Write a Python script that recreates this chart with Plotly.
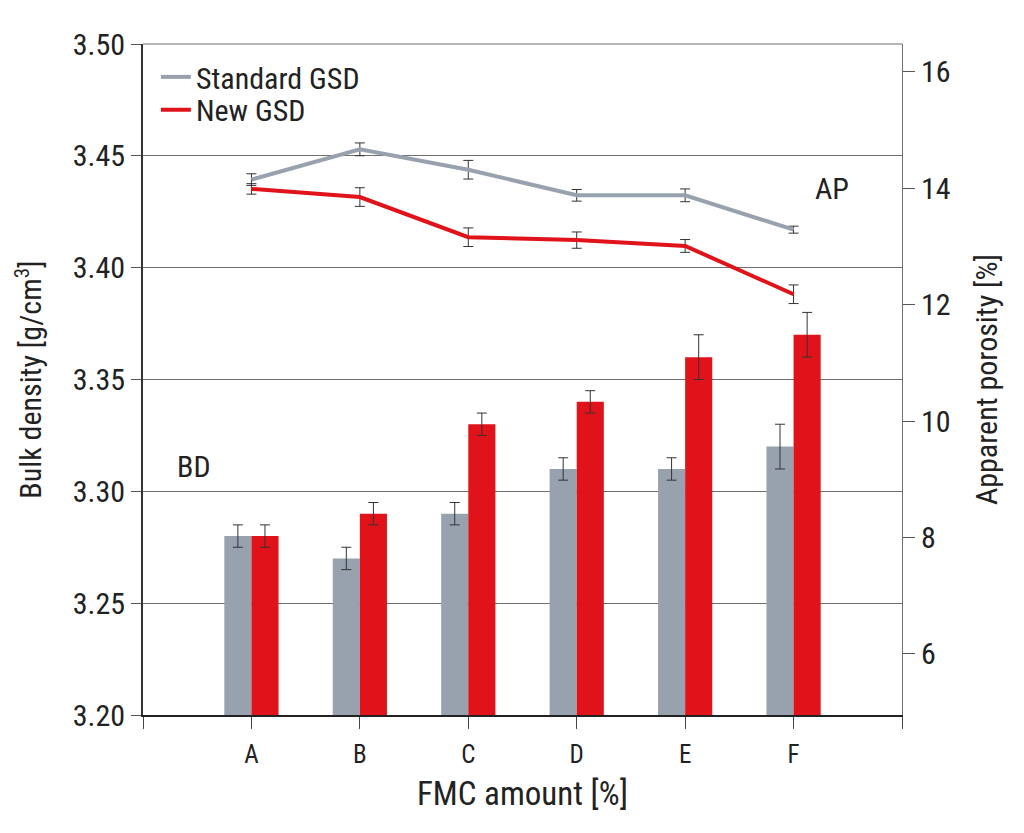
import plotly.graph_objects as go

categories = ["A", "B", "C", "D", "E", "F"]
x_pos = [0, 1, 2, 3, 4, 5]

# Bulk density (left axis) - bars
bd_standard = [3.28, 3.27, 3.29, 3.31, 3.31, 3.32]
bd_standard_err = [0.005, 0.005, 0.005, 0.005, 0.005, 0.010]
bd_new = [3.28, 3.29, 3.33, 3.34, 3.36, 3.37]
bd_new_err = [0.005, 0.005, 0.005, 0.005, 0.010, 0.010]

# Apparent porosity (right axis) - lines
ap_standard = [14.15, 14.67, 14.32, 13.88, 13.88, 13.29]
ap_standard_err = [0.10, 0.11, 0.16, 0.10, 0.11, 0.06]
ap_new = [13.99, 13.85, 13.16, 13.11, 13.01, 12.18]
ap_new_err = [0.09, 0.16, 0.16, 0.14, 0.11, 0.16]

GRAY = "#98a2ae"
RED = "#e0121a"
ERR = "#333333"
FONT = "Liberation Sans Narrow, Arial Narrow, Roboto Condensed, Liberation Sans, Arial, sans-serif"

fig = go.Figure()

fig.add_trace(go.Bar(
    x=x_pos, y=bd_standard, name="Standard GSD (BD)", marker_color=GRAY,
    marker_line_width=0, showlegend=False,
    error_y=dict(type="data", array=bd_standard_err, color=ERR, thickness=1, width=5),
))
fig.add_trace(go.Bar(
    x=x_pos, y=bd_new, name="New GSD (BD)", marker_color=RED,
    marker_line_width=0, showlegend=False,
    error_y=dict(type="data", array=bd_new_err, color=ERR, thickness=1, width=5),
))
fig.add_trace(go.Scatter(
    x=x_pos, y=ap_standard, name="Standard GSD", mode="lines", yaxis="y2",
    line=dict(color=GRAY, width=4), legend="legend",
    error_y=dict(type="data", array=ap_standard_err, color=ERR, thickness=1, width=5),
))
fig.add_trace(go.Scatter(
    x=x_pos, y=ap_new, name="New GSD", mode="lines", yaxis="y2",
    line=dict(color=RED, width=4), legend="legend2",
    error_y=dict(type="data", array=ap_new_err, color=ERR, thickness=1, width=5),
))

legend_common = dict(xanchor="left", yanchor="middle", bgcolor="rgba(0,0,0,0)",
                     font=dict(size=30, family=FONT, color="#222222"),
                     itemwidth=30, borderwidth=0)

fig.update_layout(
    width=1024, height=833,
    margin=dict(l=135, r=130, t=36, b=126),
    paper_bgcolor="white", plot_bgcolor="white",
    font=dict(family=FONT, size=28, color="#222222"),
    barmode="group", bargap=0.5, bargroupgap=0,
    showlegend=True,
    legend=dict(x=0.017, y=0.951, **legend_common),
    legend2=dict(x=0.017, y=0.902, **legend_common),
    xaxis=dict(
        range=[-1, 6],
        tickmode="array", tickvals=x_pos, ticktext=categories,
        ticks="outside", ticklen=12, tickcolor="#444444", tickwidth=1,
        ticklabelstandoff=4,
        minor=dict(tickmode="array", tickvals=[-1, 6], ticks="outside",
                   ticklen=12, tickcolor="#444444", tickwidth=1, showgrid=False),
        showline=True, linecolor="#222222", linewidth=2,
        showgrid=False, zeroline=False,
        title=dict(text="FMC amount [%]", standoff=14, font=dict(size=33)),
        tickfont=dict(size=25),
    ),
    yaxis=dict(
        range=[3.20, 3.50],
        tickmode="array", tickvals=[3.20, 3.25, 3.30, 3.35, 3.40, 3.45, 3.50],
        ticktext=["3.20", "3.25", "3.30", "3.35", "3.40", "3.45", "3.50"],
        ticks="outside", ticklen=10, tickcolor="#555555",
        showline=True, linecolor="#333333", linewidth=2,
        showgrid=True, gridcolor="#6f6f6f", gridwidth=1, zeroline=False,
        title=dict(text="Bulk density [g/cm<sup>3</sup>]", standoff=22, font=dict(size=30)),
        tickfont=dict(size=30),
    ),
    yaxis2=dict(
        range=[4.95, 16.48], overlaying="y", side="right",
        tickmode="array", tickvals=[6, 8, 10, 12, 14, 16],
        ticks="outside", ticklen=12, tickcolor="#555555",
        showline=True, linecolor="#6f6f6f", linewidth=1,
        showgrid=False, zeroline=False,
        title=dict(text="Apparent porosity [%]", standoff=26, font=dict(size=30)),
        tickfont=dict(size=30),
    ),
    annotations=[
        dict(text="BD", x=-0.53, y=3.311, xref="x", yref="y", showarrow=False,
             font=dict(size=30, family=FONT), xanchor="center", yanchor="middle"),
        dict(text="AP", x=5.35, y=14.0, xref="x", yref="y2", showarrow=False,
             font=dict(size=30, family=FONT), xanchor="center", yanchor="middle"),
    ],
    shapes=[
        dict(type="line", xref="paper", yref="paper", x0=0, x1=1, y0=1, y1=1,
             line=dict(color="#6f6f6f", width=1)),
    ],
)

fig.write_html("out.html")
